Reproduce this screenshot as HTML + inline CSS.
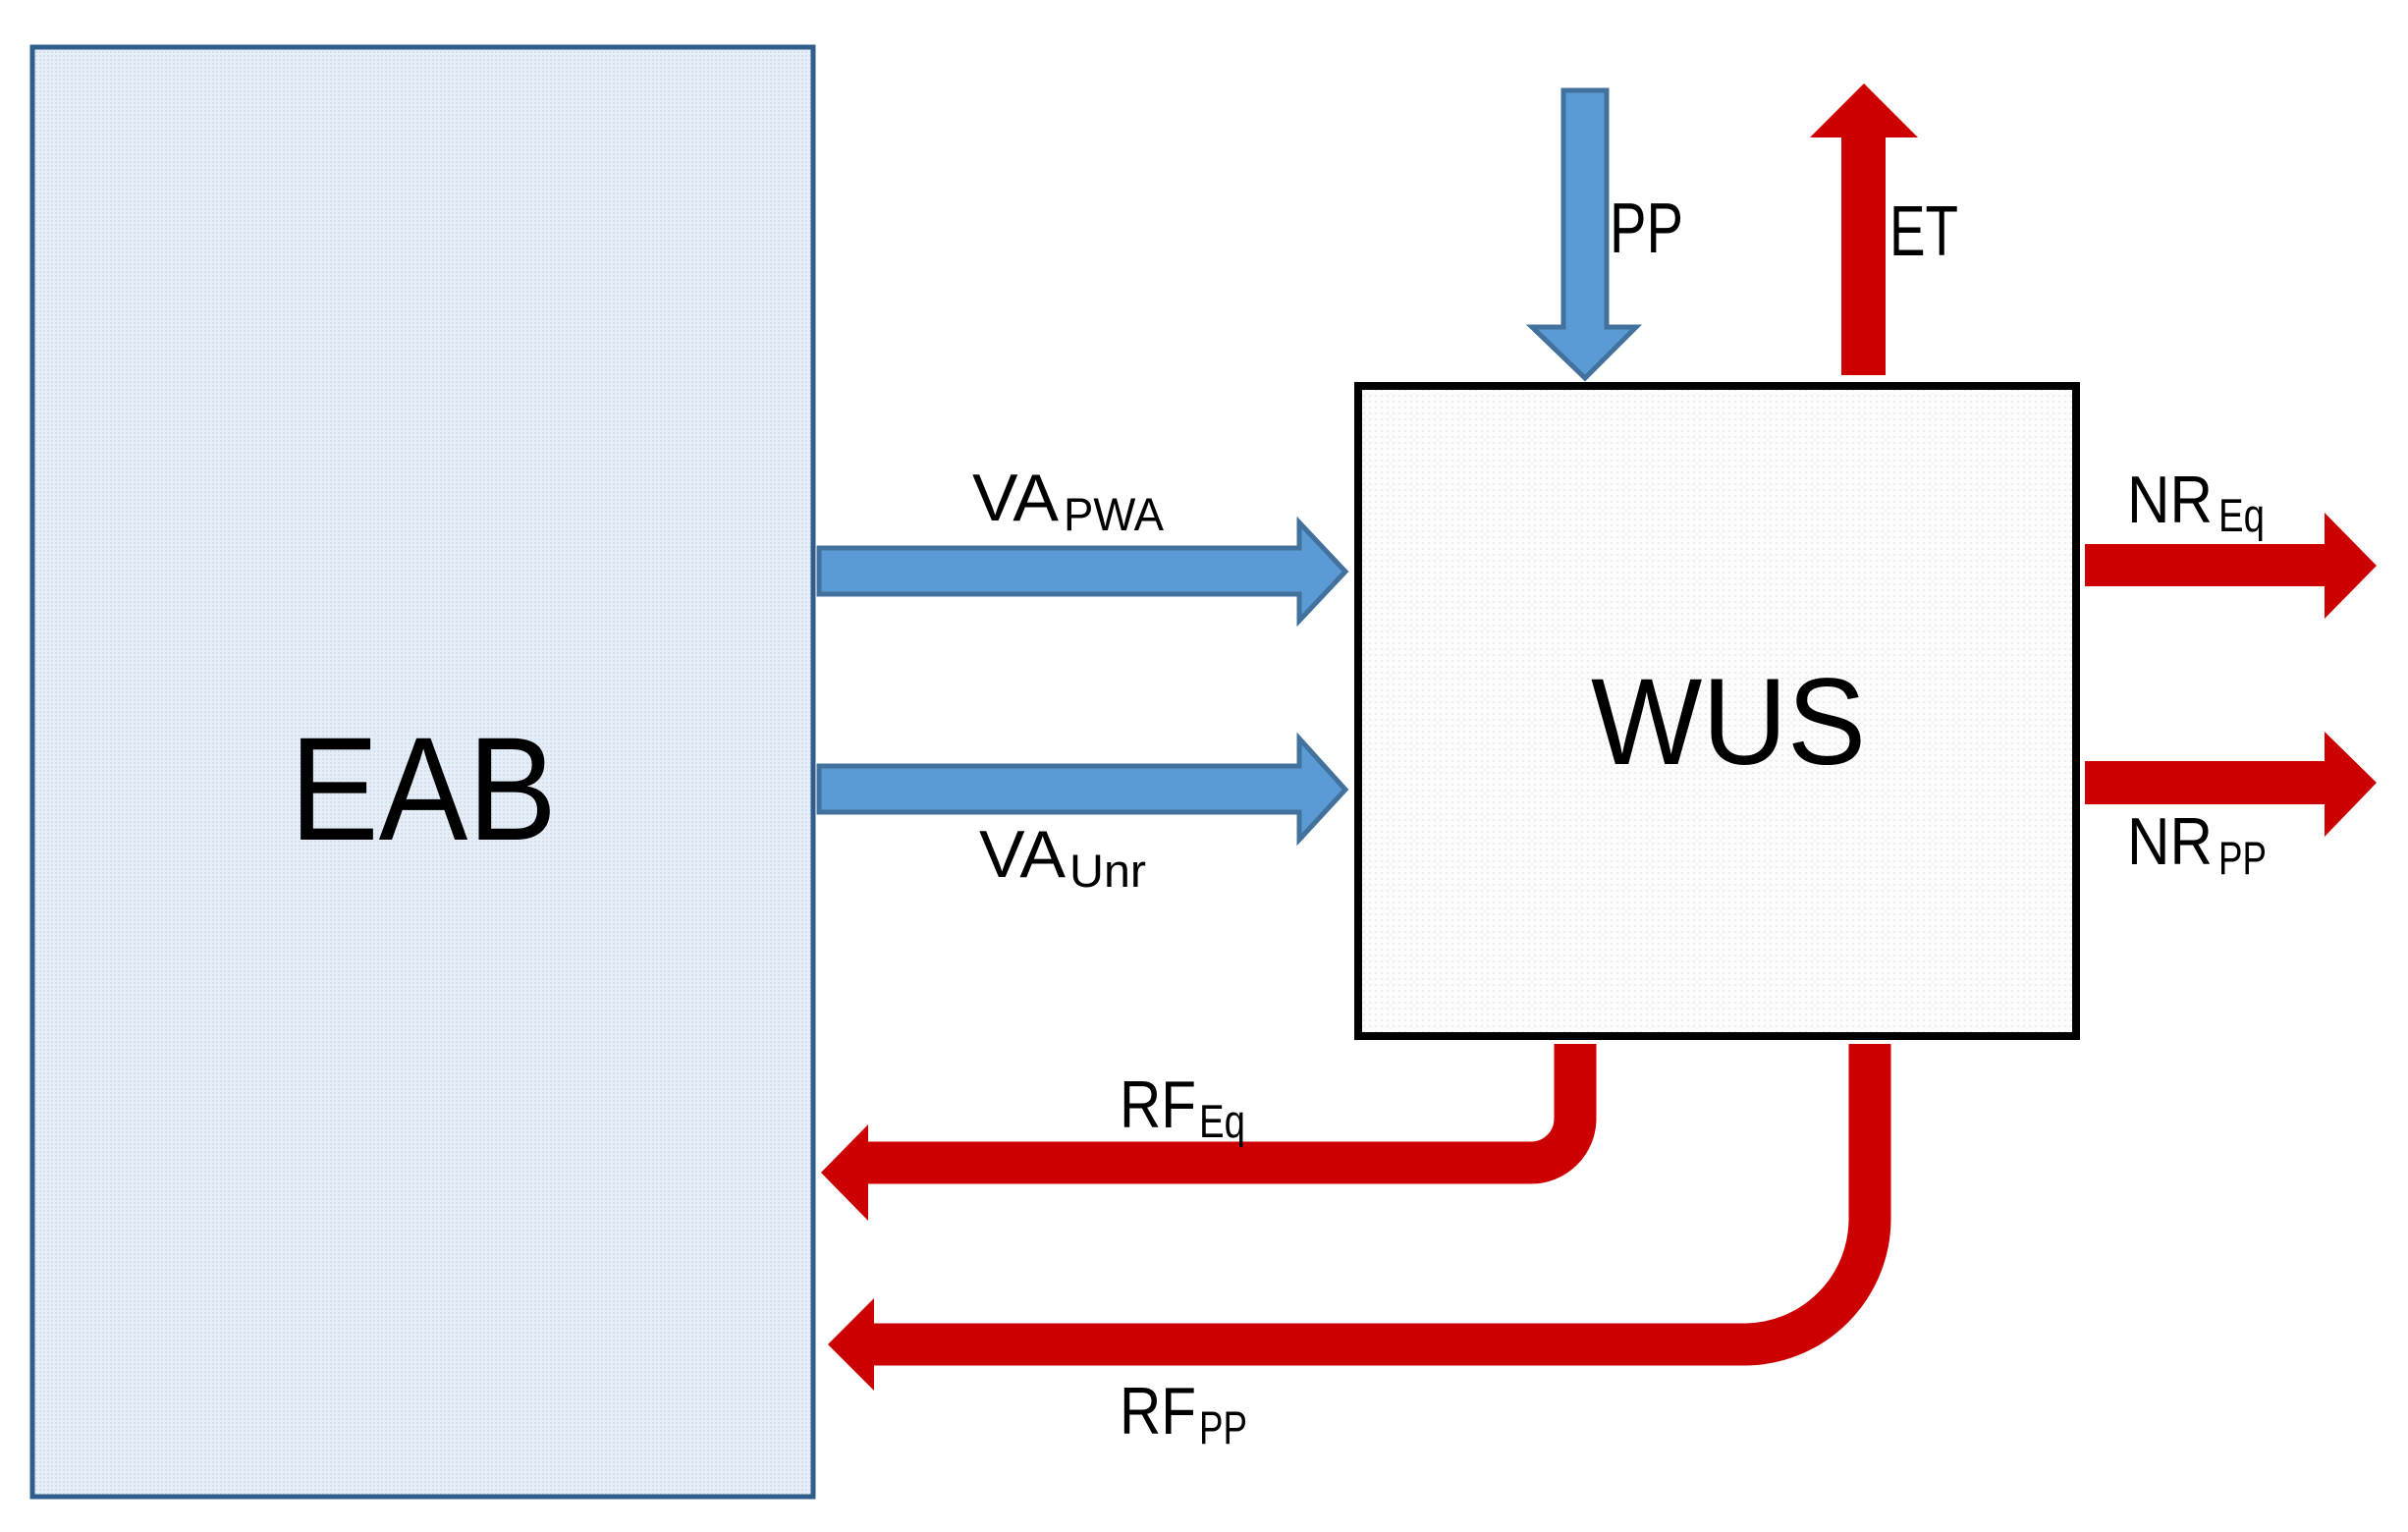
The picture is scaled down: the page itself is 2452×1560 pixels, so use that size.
<!DOCTYPE html>
<html><head><meta charset="utf-8"><style>
html,body{margin:0;padding:0;background:#fff;}
svg{display:block;}
text{font-family:"Liberation Sans",sans-serif;fill:#000;}
</style></head><body>
<svg width="2452" height="1560" viewBox="0 0 2452 1560" xmlns="http://www.w3.org/2000/svg">
<defs>
<pattern id="dots" width="4" height="4" patternUnits="userSpaceOnUse">
<rect width="4" height="4" fill="#e6eef8"/><rect width="2" height="2" fill="#d2e0f0"/>
</pattern>
<pattern id="dots2" width="6" height="6" patternUnits="userSpaceOnUse">
<rect width="6" height="6" fill="#fcfcfc"/><rect width="2" height="2" fill="#ececec"/>
</pattern>
</defs>
<!-- EAB -->
<rect x="33" y="48" width="795" height="1476" fill="url(#dots)" stroke="#2f5e8c" stroke-width="5"/>
<text x="295" y="855" font-size="150" textLength="272" lengthAdjust="spacingAndGlyphs">EAB</text>
<!-- WUS -->
<rect x="1393" y="393" width="731" height="662" fill="url(#dots2)" stroke="#000" stroke-width="8" transform="translate(-10,0)"/>
<text x="1620" y="778" font-size="125" textLength="280" lengthAdjust="spacingAndGlyphs">WUS</text>

<!-- blue arrows -->
<g fill="#5b9bd5" stroke="#41719c" stroke-width="5" stroke-linejoin="miter">
<polygon points="834,558 1323,558 1323,532 1370,582 1323,632 1323,605 834,605"/>
<polygon points="834,780 1323,780 1323,752 1370,804 1323,855 1323,827 834,827"/>
<polygon points="1592,92 1636,92 1636,333 1666,333 1614,385 1560,333 1592,333"/>
</g>
<!-- red straight arrows -->
<g fill="#cc0000">
<polygon points="1875,382 1920,382 1920,140 1953,140 1898,85 1843,140 1875,140"/>
<polygon points="2123,554 2367,554 2367,522 2420,576 2367,630 2367,597 2123,597"/>
<polygon points="2123,775 2367,775 2367,745 2420,797 2367,852 2367,819 2123,819"/>
<polygon points="884,1145 836,1194 884,1243"/>
<polygon points="890,1322 843,1369 890,1416"/>
</g>
<g fill="none" stroke="#cc0000" stroke-width="43">
<path d="M1604,1063 V1139 A45,45 0 0 1 1559,1184 H882"/>
<path d="M1904,1063 V1241 A128,128 0 0 1 1776,1369 H888"/>
</g>

<!-- labels -->
<text x="990" y="530" font-size="68" textLength="88" lengthAdjust="spacingAndGlyphs">VA</text>
<text x="1083" y="540" font-size="47" textLength="102" lengthAdjust="spacingAndGlyphs">PWA</text>
<text x="997" y="893" font-size="68" textLength="88" lengthAdjust="spacingAndGlyphs">VA</text>
<text x="1089" y="903" font-size="47" textLength="78" lengthAdjust="spacingAndGlyphs">Unr</text>
<text x="1639" y="257" font-size="72" textLength="75" lengthAdjust="spacingAndGlyphs">PP</text>
<text x="1924" y="260" font-size="72" textLength="70" lengthAdjust="spacingAndGlyphs">ET</text>
<text x="2166" y="532" font-size="68" textLength="87" lengthAdjust="spacingAndGlyphs">NR</text>
<text x="2259" y="541" font-size="47" textLength="47" lengthAdjust="spacingAndGlyphs">Eq</text>
<text x="2166" y="880" font-size="68" textLength="87" lengthAdjust="spacingAndGlyphs">NR</text>
<text x="2259" y="890" font-size="47" textLength="49" lengthAdjust="spacingAndGlyphs">PP</text>
<text x="1140" y="1148" font-size="68" textLength="78" lengthAdjust="spacingAndGlyphs">RF</text>
<text x="1221" y="1158" font-size="47" textLength="47" lengthAdjust="spacingAndGlyphs">Eq</text>
<text x="1140" y="1460" font-size="68" textLength="78" lengthAdjust="spacingAndGlyphs">RF</text>
<text x="1221" y="1470" font-size="47" textLength="49" lengthAdjust="spacingAndGlyphs">PP</text>
</svg>
</body></html>
